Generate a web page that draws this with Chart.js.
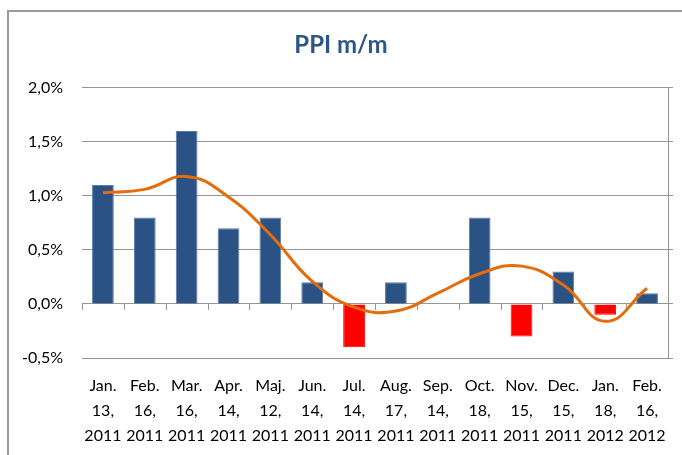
<!DOCTYPE html>
<html>
<head>
<meta charset="utf-8">
<script src="https://cdn.jsdelivr.net/npm/chart.js@4.4.1/dist/chart.umd.min.js"></script>
<style>
  html, body { margin: 0; padding: 0; background: #ffffff; overflow: hidden; }
  #wrap { position: relative; width: 682px; height: 455px; }
  #frame { position: absolute; left: 7px; top: 10px; width: 700px; height: 500px; border: 2px solid #9a9a9a; box-sizing: border-box; }
  canvas { position: absolute; left: 0; top: 0; }
</style>
</head>
<body>
<div id="wrap">
  <div id="frame"></div>
  <canvas id="c" width="682" height="455"></canvas>
</div>
<script>
// ---- data ----
const months = ['Jan.', 'Feb.', 'Mar.', 'Apr.', 'Maj.', 'Jun.', 'Jul.', 'Aug.', 'Sep.', 'Oct.', 'Nov.', 'Dec.', 'Jan.', 'Feb.'];
const days   = ['13,', '16,', '16,', '14,', '12,', '14,', '14,', '17,', '14,', '18,', '15,', '15,', '18,', '16,'];
const years  = ['2011', '2011', '2011', '2011', '2011', '2011', '2011', '2011', '2011', '2011', '2011', '2011', '2012', '2012'];
const ppiValues   = [1.1, 0.8, 1.6, 0.7, 0.8, 0.2, -0.4, 0.2, 0.0, 0.8, -0.3, 0.3, -0.1, 0.1];
const trendValues = [1.03, 1.06, 1.18, 0.99, 0.64, 0.21, -0.03, -0.065, 0.10, 0.28, 0.35, 0.176, -0.16, 0.145];
const yTicks = [-0.5, 0.0, 0.5, 1.0, 1.5, 2.0];

const labels = months.map((m, i) => [m, days[i], years[i]]);
const BLUE = '#2B5284', RED = '#FF0000';
const barColors = ppiValues.map(v => v < 0 ? RED : BLUE);
const barBorders = ppiValues.map(v => v < 0 ? RED : '#5b7ba6');
const GRID = '#959595';
const fmt = v => v.toFixed(1).replace('.', ',') + '%';

const zeroTicks = {
  id: 'zeroTicks',
  beforeDatasetsDraw(chart) {
    const xs = chart.scales.x, ys = chart.scales.y;
    const y0 = ys.getPixelForValue(0);
    const n = labels.length;
    const ctx = chart.ctx;
    ctx.save();
    ctx.strokeStyle = GRID;
    ctx.lineWidth = 1;
    for (let i = 0; i <= n; i++) {
      const x = Math.round(xs.left + i * xs.width / n) + 0.5;
      ctx.beginPath();
      ctx.moveTo(x, y0);
      ctx.lineTo(x, y0 + 6);
      ctx.stroke();
    }
    ctx.restore();
  }
};

new Chart(document.getElementById('c'), {
  data: {
    labels: labels,
    datasets: [
      {
        type: 'line',
        data: trendValues,
        borderColor: '#E46C0A',
        borderWidth: 3,
        pointRadius: 0,
        tension: 0.45,
        fill: false,
        order: 0
      },
      {
        type: 'bar',
        data: ppiValues,
        backgroundColor: barColors,
        borderColor: barBorders,
        borderWidth: 1,
        categoryPercentage: 1.0,
        barPercentage: 0.52,
        order: 1
      }
    ]
  },
  plugins: [zeroTicks],
  options: {
    responsive: false,
    animation: false,
    devicePixelRatio: 1,
    layout: { padding: { left: 0, right: 0, top: 0, bottom: 0 } },
    plugins: {
      legend: { display: false },
      tooltip: { enabled: false },
      title: {
        display: true,
        text: 'PPI m/m',
        color: '#2C5588',
        font: { family: 'Lato', size: 24, weight: 'bold', lineHeight: 1.2 },
        padding: { top: 31, bottom: 28 }
      }
    },
    scales: {
      x: {
        grid: { display: false },
        border: { display: false },
        ticks: {
          color: '#000000',
          font: { family: 'Lato', size: 16, lineHeight: 1.5625 },
          padding: 7,
          maxRotation: 0,
          autoSkip: false
        },
        afterFit(s) { s.height = 97; }
      },
      y: {
        min: -0.5,
        max: 2.0,
        afterBuildTicks(s) { s.ticks = yTicks.map(v => ({ value: v })); },
        grid: { color: GRID, lineWidth: 1, drawTicks: false },
        border: { display: false },
        ticks: {
          color: '#000000',
          font: { family: 'Lato', size: 16 },
          padding: 19,
          callback: v => fmt(v)
        },
        afterFit(s) { s.width = 82; }
      },
      y2: {
        display: true,
        position: 'right',
        min: -0.5,
        max: 2.0,
        afterBuildTicks(s) { s.ticks = yTicks.map(v => ({ value: v })); },
        grid: { drawOnChartArea: false, drawTicks: true, tickLength: 5, color: GRID },
        border: { display: true, color: GRID, width: 1 },
        ticks: { display: false },
        afterFit(s) { s.width = 14; }
      }
    }
  }
});
</script>
</body>
</html>
